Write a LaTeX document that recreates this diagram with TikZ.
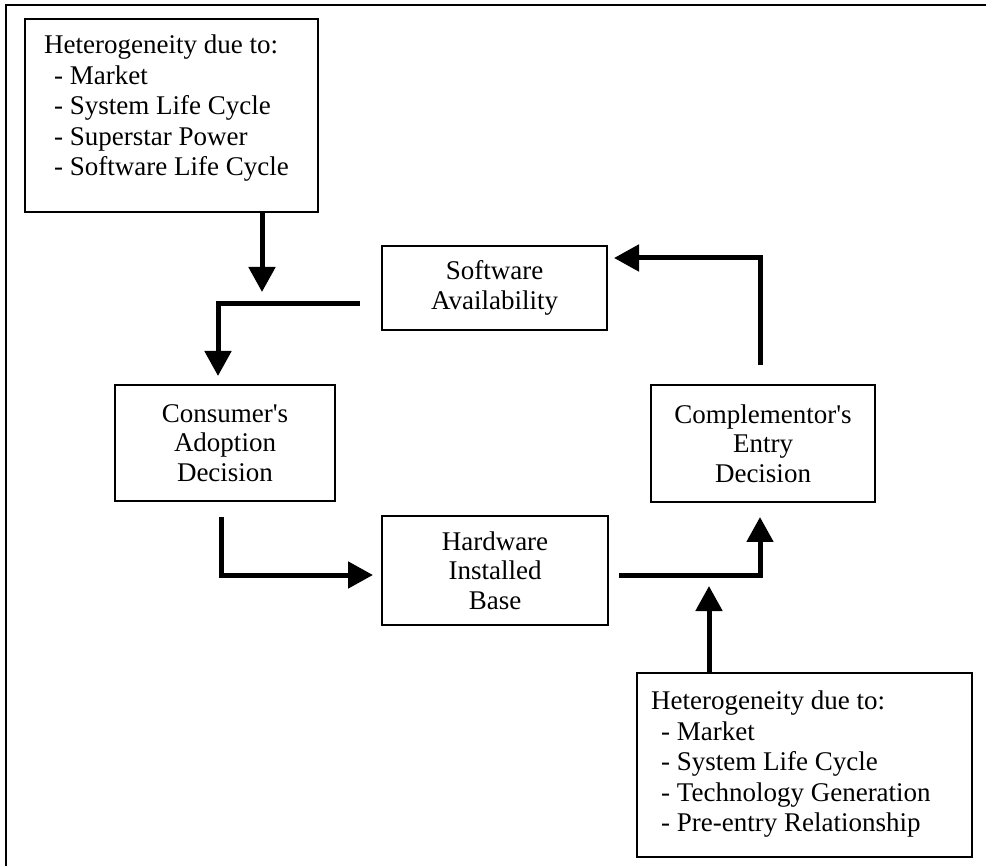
\documentclass[tikz,border=0pt]{standalone}
\usepackage{fontspec}
\setmainfont{Liberation Serif}[Ligatures=TeXOff]
\usetikzlibrary{arrows.meta}
\begin{document}
\begin{tikzpicture}[x=1pt,y=-1pt,
  box/.style={draw, line width=1.5pt, inner sep=0pt, align=center, font=\fontsize{27}{29.5}\selectfont},
  txt/.style={inner sep=0pt, align=left, font=\fontsize{27}{30.5}\selectfont},
  conn/.style={line width=5pt, -{Triangle[width=26pt,length=25pt]}}]
\useasboundingbox (0,0) rectangle (986,866);
\draw[line width=2pt] (6,866) -- (6,5) -- (986,5);
% boxes
\node[box, minimum width=293pt, minimum height=193pt] (h1) at (171.5,115.5) {};
\node[txt, anchor=north west] (h1t) at (44,35) {Heterogeneity due to:\\\hspace*{10pt}- Market\\\hspace*{10pt}- System Life Cycle\\\hspace*{10pt}- Superstar Power\\\hspace*{10pt}- Software Life Cycle};
\node[box, minimum width=225pt, minimum height=84pt] (sa) at (494.5,288) {Software\\Availability};
\node[box, minimum width=220pt, minimum height=116pt] (ca) at (225,443) {Consumer's\\Adoption\\Decision};
\node[box, minimum width=226pt, minimum height=109pt] (hb) at (495,570.5) {Hardware\\Installed\\Base};
\node[box, minimum width=224pt, minimum height=117pt] (ce) at (763,443.5) {Complementor's\\Entry\\Decision};
\node[box, minimum width=335pt, minimum height=184pt] (h2) at (804.5,765) {};
\node[txt, anchor=north west] (h2t) at (651,691) {Heterogeneity due to:\\\hspace*{10pt}- Market\\\hspace*{10pt}- System Life Cycle\\\hspace*{10pt}- Technology Generation\\\hspace*{10pt}- Pre-entry Relationship};
% connectors
\coordinate (t1) at (262,292);
\draw[conn] (h1.south -| t1) -- (t1);
\coordinate (s2) at (360,304); \coordinate (t2) at (218,376);
\draw[conn] (s2) -| (t2);
\coordinate (s3) at (221,517); \coordinate (t3) at (373,575);
\draw[conn] (s3) |- (t3);
\coordinate (s4) at (619,575); \coordinate (t4) at (760,517);
\draw[conn] (s4) -| (t4);
\coordinate (t5) at (709,586);
\draw[conn] (h2.north -| t5) -- (t5);
\coordinate (s6) at (760,365); \coordinate (t6) at (614,258);
\draw[conn] (s6) |- (t6);
\end{tikzpicture}
\end{document}
